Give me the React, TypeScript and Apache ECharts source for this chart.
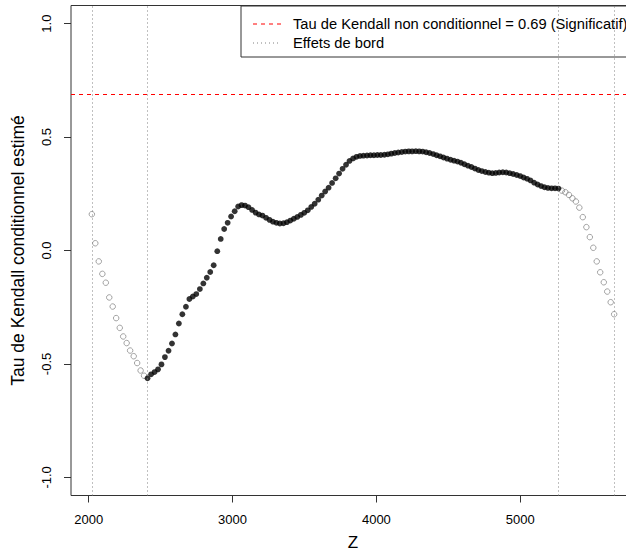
import React, { useEffect, useRef } from "react";
import * as echarts from "echarts";

// Z grid of the left edge-effect zone (open circles)
const leftZ = [2022, 2046, 2070, 2095, 2119, 2143, 2167, 2191, 2216, 2240, 2264, 2288, 2313, 2337, 2361, 2385];
const leftTau = [0.160, 0.032, -0.048, -0.103, -0.142, -0.207, -0.247, -0.298, -0.341, -0.379, -0.408, -0.441, -0.466, -0.496, -0.529, -0.552];

// Interior (filled points)
const midZ = [
  2409, 2434, 2458, 2482, 2506, 2530, 2555, 2579, 2603, 2627,
  2651, 2676, 2700, 2724, 2748, 2773, 2797, 2821, 2845, 2869,
  2894, 2918, 2942, 2966, 2990, 3015, 3039, 3063, 3087, 3111,
  3136, 3160, 3184, 3208, 3233, 3257, 3281, 3305, 3329, 3354,
  3378, 3402, 3426, 3450, 3475, 3499, 3523, 3547, 3571, 3596,
  3620, 3644, 3668, 3692, 3717, 3741, 3765, 3789, 3813, 3838,
  3862, 3886, 3910, 3935, 3959, 3983, 4007, 4031, 4056, 4080,
  4104, 4128, 4152, 4177, 4201, 4225, 4249, 4274, 4298, 4322,
  4346, 4370, 4395, 4419, 4443, 4467, 4491, 4516, 4540, 4564,
  4588, 4612, 4637, 4661, 4685, 4709, 4733, 4758, 4782, 4806,
  4830, 4854, 4879, 4903, 4927, 4951, 4976, 5000, 5024, 5048,
  5072, 5097, 5121, 5145, 5169, 5193, 5218, 5242, 5266,
];
const midTau = [
  -0.563, -0.546, -0.536, -0.524, -0.502, -0.470, -0.442, -0.410, -0.370, -0.322,
  -0.281, -0.248, -0.214, -0.203, -0.192, -0.170, -0.145, -0.120, -0.095, -0.065,
  -0.003, 0.051, 0.095, 0.122, 0.150, 0.173, 0.194, 0.200, 0.198, 0.191,
  0.179, 0.167, 0.159, 0.154, 0.144, 0.135, 0.127, 0.122, 0.119, 0.120,
  0.125, 0.132, 0.140, 0.148, 0.157, 0.166, 0.177, 0.192, 0.206, 0.224,
  0.242, 0.260, 0.277, 0.298, 0.318, 0.339, 0.360, 0.378, 0.395, 0.406,
  0.413, 0.417, 0.418, 0.419, 0.420, 0.420, 0.421, 0.421, 0.422, 0.424,
  0.427, 0.430, 0.432, 0.434, 0.436, 0.437, 0.437, 0.438, 0.437, 0.436,
  0.433, 0.430, 0.425, 0.420, 0.415, 0.410, 0.405, 0.400, 0.396, 0.392,
  0.387, 0.380, 0.374, 0.368, 0.361, 0.355, 0.350, 0.346, 0.343, 0.341,
  0.342, 0.344, 0.345, 0.344, 0.341, 0.337, 0.333, 0.328, 0.322, 0.316,
  0.309, 0.299, 0.291, 0.284, 0.279, 0.276, 0.274, 0.274, 0.273,
];

// Right edge-effect zone (open circles)
const rightZ = [5290, 5314, 5339, 5363, 5387, 5411, 5435, 5460, 5484, 5508, 5532, 5556, 5581, 5605, 5629, 5653];
const rightTau = [0.264, 0.257, 0.245, 0.230, 0.216, 0.189, 0.147, 0.103, 0.059, 0.012, -0.048, -0.096, -0.140, -0.181, -0.228, -0.281];

const edgeBounds = [2022, 2409, 5266, 5653];
const unconditionalTau = 0.69;

const xTicks = [2000, 3000, 4000, 5000];
const yTicks = [-1.0, -0.5, 0.0, 0.5, 1.0];

const legendLabels = ["Tau de Kendall non conditionnel = 0.69 (Significatif)", "Effets de bord"];
const xTitle = "Z";
const yTitle = "Tau de Kendall conditionnel estimé";

const FONT = "'Liberation Sans', Arial, sans-serif";
const RED = "#ff0000";
const GREY = "#808080";

export default function App() {
  const ref = useRef<HTMLDivElement>(null);
  useEffect(() => {
    if (!ref.current) return;
    const chart = echarts.init(ref.current, undefined, { renderer: "svg" });
    const zip = (xs: number[], ys: number[]) => xs.map((x, i) => [x, ys[i]]);
    const openStyle = { color: "rgba(255,255,255,0)", borderColor: "#7f7f7f", borderWidth: 0.9 };
    chart.setOption({
      animation: false,
      backgroundColor: "#fff",
      grid: {
        left: 71,
        top: 5.5,
        width: 564,
        height: 490,
        containLabel: false,
        outerBoundsMode: "none",
        show: true,
        borderColor: "#333",
        borderWidth: 1,
        backgroundColor: "transparent",
      },
      xAxis: {
        type: "value",
        min: 1877,
        max: 5798,
        name: xTitle,
        nameLocation: "middle",
        nameGap: 38,
        nameTextStyle: { fontFamily: FONT, fontSize: 17, color: "#000" },
        axisLine: { show: false, onZero: false },
        splitLine: { show: false },
        axisTick: { show: true, length: 7, customValues: xTicks, lineStyle: { color: "#333" } },
        axisLabel: { customValues: xTicks, margin: 17, fontFamily: FONT, fontSize: 13, color: "#000", formatter: (v: number) => String(v) },
      },
      yAxis: {
        type: "value",
        min: -1.08,
        max: 1.08,
        name: yTitle,
        nameLocation: "middle",
        nameGap: 44,
        nameRotate: 90,
        nameTextStyle: { fontFamily: FONT, fontSize: 17.5, color: "#000" },
        axisLine: { show: false, onZero: false },
        splitLine: { show: false },
        axisTick: { show: true, length: 7, customValues: yTicks, lineStyle: { color: "#333" } },
        axisLabel: {
          customValues: yTicks,
          rotate: 90,
          margin: 18,
          fontFamily: FONT,
          fontSize: 13,
          color: "#000",
          formatter: (v: number) => v.toFixed(1),
        },
      },
      series: [
        {
          type: "scatter",
          data: zip(leftZ, leftTau),
          symbol: "circle",
          symbolSize: 5.5,
          itemStyle: openStyle,
          silent: true,
          markLine: {
            silent: true,
            symbol: "none",
            label: { show: false },
            lineStyle: { color: GREY, width: 1, type: [1, 3], opacity: 1 },
            data: edgeBounds.map((b) => ({ xAxis: b })),
          },
        },
        {
          type: "scatter",
          data: zip(rightZ, rightTau),
          symbol: "circle",
          symbolSize: 5.5,
          itemStyle: openStyle,
          silent: true,
        },
        {
          type: "scatter",
          data: zip(midZ, midTau),
          symbol: "circle",
          symbolSize: 5.8,
          itemStyle: { color: "#000" },
          silent: true,
          markLine: {
            silent: true,
            symbol: "none",
            label: { show: false },
            lineStyle: { color: RED, width: 1, type: [4, 4], opacity: 1 },
            data: [{ yAxis: unconditionalTau }],
          },
        },
      ],
      graphic: [
        {
          type: "group",
          z: 100,
          children: [
            { type: "rect", shape: { x: 241, y: 6, width: 420, height: 51 }, style: { fill: "#fff", stroke: "#333", lineWidth: 1 } },
            { type: "line", shape: { x1: 253, y1: 24, x2: 281, y2: 24 }, style: { stroke: RED, lineWidth: 1, lineDash: [4, 4] } },
            { type: "line", shape: { x1: 253, y1: 43, x2: 281, y2: 43 }, style: { stroke: GREY, lineWidth: 1, lineDash: [1, 3] } },
            { type: "text", x: 293, y: 24, style: { text: legendLabels[0], fontFamily: FONT, fontSize: 14.7, fill: "#000", verticalAlign: "middle" } },
            { type: "text", x: 293, y: 43, style: { text: legendLabels[1], fontFamily: FONT, fontSize: 14.7, fill: "#000", verticalAlign: "middle" } },
          ],
        },
      ],
    });
    return () => chart.dispose();
  }, []);
  return (
    <div style={{ position: "absolute", left: 0, top: 0, width: 626, height: 552, overflow: "hidden" }}>
      <div ref={ref} style={{ position: "absolute", left: 0, top: 0, width: 660, height: 552 }} />
    </div>
  );
}
